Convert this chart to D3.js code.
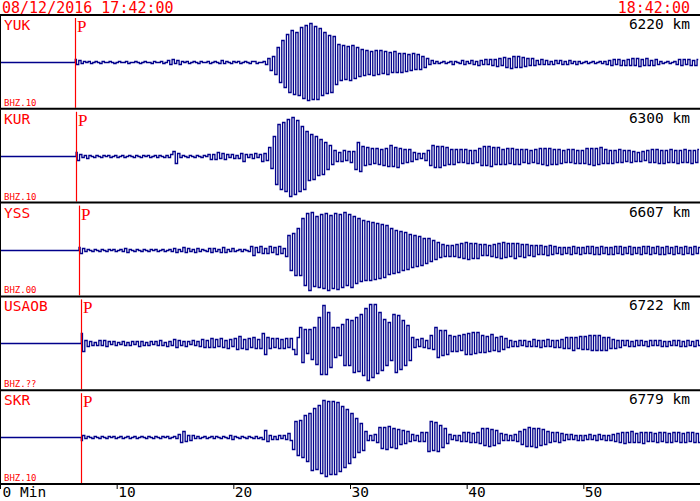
<!DOCTYPE html>
<html><head><meta charset="utf-8">
<script src="https://cdn.jsdelivr.net/npm/d3@7"></script>
<style>html,body{margin:0;padding:0;background:#fff;}svg{display:block;}</style>
</head><body>
<script>
const startLabel = "08/12/2016 17:42:00";
const endLabel = "18:42:00";
const stations = ["YUK","KUR","YSS","USAOB","SKR"];
const channels = ["BHZ.10","BHZ.10","BHZ.00","BHZ.??","BHZ.10"];
const distances = [6220,6300,6607,6722,6779];
const pTimes = [6.45,6.52,6.77,6.97,6.97];
const sampleInterval = 0.2; // minutes
const tickValues = [0,10,20,30,40,50,60];
const tickLabels = ["0 Min","10","20","30","40","50",""];

const yuk = [3,-2,2,-1,1,0,1,-1,0,1, 0,-1,1,0,0,1,0,-1,0,1, 0,0,1,-1,0,0,1,0,-1,0, 1,0,0,-1,1,0,0,1,-1,0,
 2,-2,3,-1,2,-2,1,0,1,-1, 0,1,0,-1,1,0,0,1,-1,0, 1,0,-1,2,-1,1,0,-1,1,0, 1,-1,0,1,0,-1,1,1,-1,0,
 0,1,-2,4,-8,6,-12,15,-20,22, -25,28,-30,32,-32,30,-33,35,-36,37, -38,39,-37,36,-37,34,-33,30,-31,27,
 -30,26,-22,18,-18,17,-17,16,-18,17, -16,15,-14,13,-13,12,-12,11,-13,12, -12,12,-11,11,-12,10,-10,11,-10,9,
 -10,9,-9,8,-8,9,-7,8,-7,6, -5,4,-2,2,-1,1,-1,0,1,-1, 0,1,-2,1,0,-1,2,-2,1,-1, 2,-2,1,-3,2,-2,3,-2,3,-3,
 3,-4,4,-3,5,-5,4,-6,6,-5, 6,-5,5,-4,4,-3,4,-3,2,-2, 3,-2,2,-2,1,-2,2,-1,2,-2, 1,-2,2,-1,1,-2,1,-1,0,1,
 -1,0,1,-1,0,1,-1,1,-2,2, -3,3,-2,3,-3,2,-3,3,-3,4, -3,4,-4,3,-3,4,-3,2,-3,3, -2,1,-1,0,1,-1,0,1,-2,3,
 -3,3,-2,3,-3,2,-3,3];
const kur = [4,-4,2,-1,1,-2,1,0,-1,1, 0,-1,1,0,1,-1,0,1,-1,0, 1,-1,0,1,0,-1,1,0,-1,1, 0,1,-1,0,1,-1,1,0,-1,1,
 -1,2,5,-7,3,-1,1,0,-1,1, 0,-1,1,0,-1,1,0,2,-3,2, -3,4,-2,3,-3,2,-1,2,-2,1, -2,3,-5,2,-1,2,-2,3,-1,2,
 -5,3,-4,9,-12,20,-28,32,-33,34, -35,37,-40,39,-38,36,-35,30,-33,25, -24,22,-23,20,-19,17,-18,14,-13,11,
 -8,6,-5,4,-5,6,-4,5,-6,5, -13,14,-15,10,-9,9,-8,8,-7,8, -8,7,-9,8,-10,11,-10,9,-11,8,
 -7,7,-6,7,-5,4,-3,3,-2,3, -4,6,-9,11,-11,10,-11,10,-9,9, -8,7,-8,7,-6,7,-6,7,-7,6, -7,6,-6,8,-9,10,-9,10,-10,9,
 -8,9,-8,7,-8,8,-7,8,-8,7, -8,7,-6,7,-7,6,-6,7,-7,8, -8,8,-9,8,-8,7,-8,7,-7,6, -6,7,-6,7,-7,6,-7,6,-7,8,
 -8,8,-9,8,-8,9,-7,7,-7,6, -7,6,-6,7,-6,6,-5,6,-6,5, -5,4,-5,5,-4,6,-6,7,-6,7, -7,6,-7,6,-6,7,-6,6,-7,6,
 -6,7,-6,6,-7,6,-6,7];
const yss = [3,-3,2,-1,1,0,-1,1,0,-1, 1,0,-1,1,0,1,-1,0,1,-1, 2,-2,1,0,-1,1,0,-1,1,0, -1,1,0,1,-1,0,1,-1,0,1,
 -1,2,-2,1,-1,3,-2,2,-1,1, -2,2,-1,1,0,-1,2,-2,2,-1, 1,-2,3,-2,1,-1,2,-1,0,1, -1,1,0,-1,4,-5,3,-2,4,-3,
 2,-3,4,-2,3,-4,4,-3,2,-6, 15,-20,17,-25,22,-25,32,-35,37,-40, 38,-36,34,-37,36,-38,37,-40,35,-38,
 37,-39,36,-37,38,-35,36,-37,34,-33, 32,-31,30,-30,29,-30,28,-29,27,-28, 26,-27,25,-24,22,-23,20,-22,19,-20,
 18,-19,16,-17,15,-16,14,-15,12,-13, 12,-11,10,-9,8,-7,6,-6,5,-6, 5,-6,6,-7,7,-8,8,-9,7,-8, 7,-8,6,-5,6,-5,5,-6,6,-7,
 7,-8,8,-7,7,-6,7,-8,7,-6, 6,-7,6,-5,5,-6,5,-4,5,-4, 4,-5,5,-4,4,-3,3,-4,3,-3, 3,-4,4,-3,3,-4,3,-3,4,-3,
 4,-4,3,-4,4,-3,3,-4,3,-4, 4,-3,4,-4,3,-3,4,-4,3,-3, 3,-4,4,-3,4,-4,3,-3,4,-4, 3,-4,4,-3,3,-4,4,-3,3,-4,
 4,-3,3,-4,4,-3,3,-4];
const usaob = [10,-8,3,-3,2,-2,1,-2,3,-2, 3,-3,2,-1,2,-2,1,-1,2,-2, 1,-2,2,-1,2,-3,2,-2,1,-2, 2,-1,2,-2,3,-2,1,-3,2,-2,
 4,-4,3,-2,2,-3,2,-1,3,-2, 2,-3,4,-4,3,-4,5,-4,4,-3, 5,-4,3,-5,4,-3,5,-6,7,-5, 4,-6,5,-4,6,-5,4,-5,10,-11,
 6,-5,5,-4,5,-5,4,-5,5,-4, 5,-6,-11,6,16,-19,14,-10,14,-16, 16,-21,26,-31,38,-31,31,-24,16,-14,
 16,-12,19,-22,24,-22,23,-29,26,-28, 29,-32,35,-37,39,-34,39,-30,31,-27, 24,-22,21,-17,29,-29,28,-26,23,-22,
 18,-17,6,-4,4,-3,5,-4,3,-5, 8,-6,16,-14,13,-12,13,-11,8,-8, 7,-8,8,-7,9,-11,10,-11,11,-10, 11,-9,8,-9,7,-8,9,-7,6,-8,
 7,-6,5,-4,3,-3,2,-3,3,-2, 3,-3,2,-3,4,-3,3,-4,3,-3, 4,-3,3,-4,3,-4,4,-5,6,-5, 6,-7,6,-5,7,-6,7,-6,8,-7,
 8,-7,8,-7,6,-7,6,-5,4,-5, 3,-4,3,-2,3,-3,2,-3,3,-2, 3,-2,2,-3,3,-2,3,-2,3,-3, 2,-3,2,-2,3,-2,3,-3,2,-3,
 3,-2,2,-3,3,-2,3,-2];
const skr = [-3,2,-1,1,0,-1,1,0,-1,1, 0,-1,1,0,1,-1,0,1,-1,0, 1,-1,0,1,-1,0,1,0,-1,1, 0,-1,1,0,-1,1,0,1,-1,0,
 1,-1,3,-5,6,-4,2,-3,2,-1, 1,-1,0,1,-1,0,1,-1,1,0, -1,1,0,-1,2,-2,1,0,-1,1, 0,-1,1,0,-1,1,-1,0,-2,7,
 -4,2,-2,1,-2,2,-1,2,-2,4, -3,-12,16,-18,17,-20,22,-24,24,-33, 29,-32,32,-36,37,-39,36,-37,36,-37,
 35,-34,31,-30,28,-26,24,-20,19,-15, 14,-13,6,-3,2,-3,3,-5,10,-11, 10,-12,11,-10,9,-11,8,-7,7,-6,
 6,-4,3,-3,2,-4,5,-4,5,-14, 16,-13,15,-14,12,-10,9,-6,3,-2, 2,-3,2,-4,5,-4,5,-5,4,-5, 5,-6,9,-8,9,-9,8,-8,7,-6,
 4,-3,3,-3,2,-3,3,-4,6,-7, 8,-9,10,-9,9,-10,9,-8,8,-7, 6,-5,5,-4,5,-5,4,-3,3,-2, 3,-2,2,-3,2,-3,2,-2,3,-2,
 2,-3,3,-2,2,-3,2,-3,3,-4, 4,-5,5,-6,5,-5,6,-5,4,-5, 5,-6,5,-4,5,-4,4,-5,5,-4, 5,-5,4,-5,5,-4,5,-5,4,-5,
 5,-4,5,-5,4,-5,4,-5];
const traces = [yuk, kur, yss, usaob, skr];

const W = 700, H = 501;
const RED = "#ff0000", NAVY = "#00008b";
const mono = "'DejaVu Sans Mono', 'Liberation Mono', monospace";

const svg = d3.select("body").append("svg").attr("width", W).attr("height", H);
svg.append("rect").attr("width", W).attr("height", H).attr("fill", "#fff");

const x = d3.scaleLinear().domain([0, 60]).range([0, W]);
const panelY = d3.scaleLinear().domain([0, stations.length]).range([15, 484]);
const panelH = panelY(1) - panelY(0);
const amp = d3.scaleLinear().domain([-50, 50]).range([50, -50]);

// header
svg.append("text").attr("x", 2).attr("y", 13).attr("fill", RED)
  .attr("font-family", mono).attr("font-size", 15).text(startLabel);
svg.append("text").attr("x", 690).attr("y", 13).attr("fill", RED).attr("text-anchor", "end")
  .attr("font-family", mono).attr("font-size", 15).text(endLabel);

const defs = svg.append("defs");
const line = d3.line().x(d => x(d.t)).y(d => amp(d.v)).curve(d3.curveStep);

stations.forEach((st, i) => {
  const top = panelY(i), bot = panelY(i + 1);
  const base = Math.round((top + bot) / 2) + 0.5;
  defs.append("clipPath").attr("id", "clip" + i).append("rect")
    .attr("x", 0).attr("y", top + 1).attr("width", W).attr("height", panelH - 2);
  const pts = [{t: 0, v: 0}, {t: pTimes[i], v: 0}]
    .concat(traces[i].map((v, k) => ({t: pTimes[i] + k * sampleInterval, v})));
  const g = svg.append("g").attr("clip-path", "url(#clip" + i + ")");
  g.append("path").attr("transform", `translate(0,${base})`)
    .attr("d", line(pts)).attr("fill", "none").attr("stroke", NAVY).attr("stroke-width", 1.3);
  const px = Math.round(x(pTimes[i])) + 0.5;
  svg.append("line").attr("x1", px).attr("x2", px).attr("y1", top + 3).attr("y2", bot - 1)
    .attr("stroke", RED).attr("stroke-width", 1.2);
  svg.append("text").attr("x", 4).attr("y", top + 15).attr("fill", RED)
    .attr("font-family", mono).attr("font-size", 14.5).text(st);
  svg.append("text").attr("x", px + 1.5).attr("y", top + 17).attr("fill", RED)
    .attr("font-family", "'Liberation Serif','DejaVu Serif',serif").attr("font-size", 17).text("P");
  svg.append("text").attr("x", 4).attr("y", bot - 3).attr("fill", RED)
    .attr("font-family", mono).attr("font-size", 9).text(channels[i]);
  svg.append("text").attr("x", 690).attr("y", top + 14).attr("fill", "#000").attr("text-anchor", "end")
    .attr("font-family", mono).attr("font-size", 14.5).text(distances[i] + " km");
});

// separators
d3.range(stations.length + 1).forEach(i => {
  svg.append("line").attr("x1", 0).attr("x2", W).attr("y1", panelY(i)).attr("y2", panelY(i))
    .attr("stroke", "#000").attr("stroke-width", 2);
});
svg.append("line").attr("x1", 0.5).attr("x2", 0.5).attr("y1", panelY(0)).attr("y2", panelY(stations.length))
  .attr("stroke", "#000").attr("stroke-width", 1);

// bottom axis
const axisY = panelY(stations.length);
const axis = d3.axisBottom(x).tickValues(tickValues).tickSize(5).tickSizeOuter(0)
  .tickFormat((d, k) => tickLabels[k]);
const ag = svg.append("g").attr("transform", `translate(0,${axisY})`).call(axis);
ag.select(".domain").remove();
ag.selectAll(".tick line").attr("stroke", "#000").attr("stroke-width", 1);
ag.selectAll(".tick text").attr("text-anchor", "start").attr("x", 1).attr("y", 3).attr("dy", "0.71em")
  .attr("fill", "#000").attr("font-family", mono).attr("font-size", 14.5);
ag.selectAll(".tick").filter(d => d === 0).select("text").attr("x", 2);
</script>
</body></html>
